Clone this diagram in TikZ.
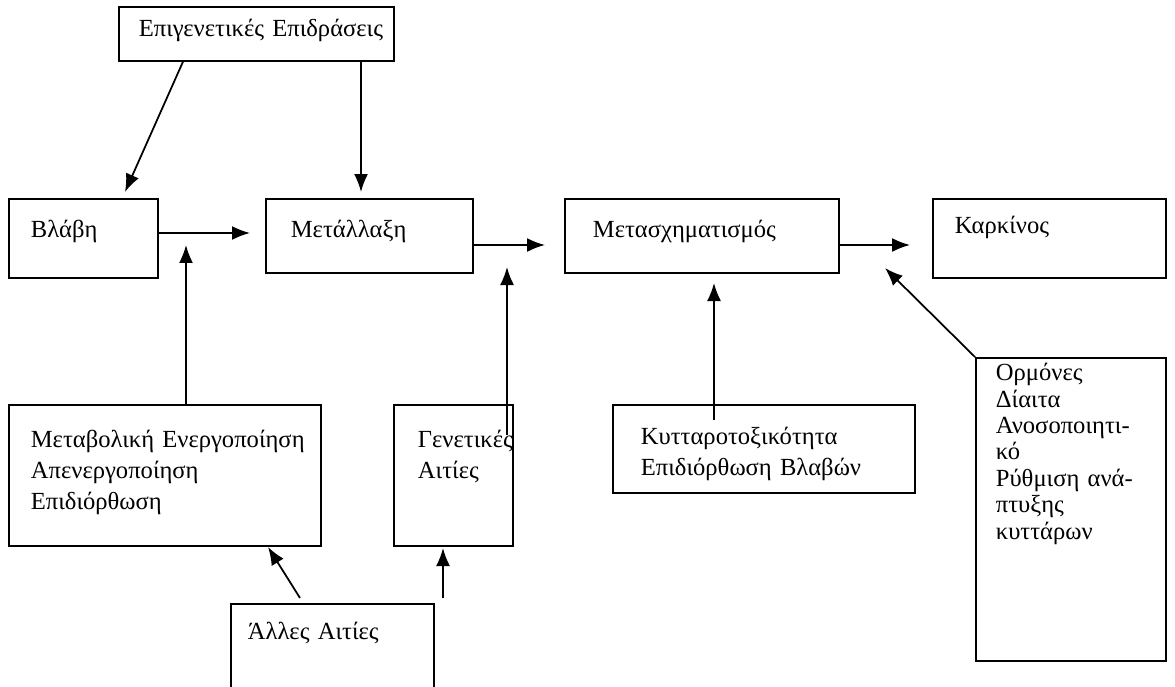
\documentclass[tikz,border=0pt]{standalone}
\usepackage{fontspec}
\setmainfont{Liberation Serif}
\usetikzlibrary{arrows.meta, calc}
\hyphenpenalty=10000

\tikzset{
  blk/.style={draw, line width=1pt, anchor=north west, inner sep=0pt, inner xsep=0.44cm,
    align=left, font=\fontsize{14}{17.6}\selectfont},
  arr/.style={line width=1pt, -{Latex[length=0.36cm,width=0.28cm]}}
}

\begin{document}
\begin{tikzpicture}[x=0.02cm, y=-0.02cm]
  \useasboundingbox (0,0) rectangle (1175,686);

  % Nodes
  \node (epi) [blk, inner xsep=0.4cm, text width=4.7cm, text height=0.60cm, text depth=0.48cm] at (118,6) {Επιγενετικές~Επιδράσεις};
  \node (blavi) [blk, text width=2.10cm, text height=0.78cm, text depth=0.80cm] at (8,198) {Βλάβη};
  \node (metall) [blk, inner xsep=0.5cm, text width=3.14cm, text height=0.78cm, text depth=0.70cm] at (265,198) {Μετάλλαξη};
  \node (metasx) [blk, inner xsep=0.56cm, text width=4.36cm, text height=0.78cm, text depth=0.70cm] at (564,198) {Μετασχηματισμός};
  \node (karkinos) [blk, text width=3.78cm, text height=0.70cm, text depth=0.88cm] at (932,198) {Καρκίνος};
  \node (metavol) [blk, text width=5.36cm, text height=0.86cm, text depth=1.96cm] at (8,404) {Μεταβολική~Ενεργοποίηση\\Απενεργοποίηση\\Επιδιόρθωση};
  \node (genet) [blk, inner xsep=0.48cm, text width=1.42cm, text height=0.86cm, text depth=1.96cm] at (393,404) {Γενετικές\\Αιτίες};
  \node (kyttaro) [blk, inner xsep=0.56cm, text width=4.92cm, text height=0.80cm, text depth=0.96cm] at (612,404) {Κυτταροτοξικότητα\\Επιδιόρθωση~Βλαβών};
  \node (ormones) [blk, inner xsep=0.4cm, text width=3.0cm, text height=0.46cm, text depth=5.60cm,
    font=\fontsize{14}{15}\selectfont] at (975,357) {Ορμόνες\\Δίαιτα\\Ανοσοποιητι-\\κό\\Ρύθμιση~ανά-\\πτυξης\\κυττάρων};
  \node (alles) [blk, inner xsep=0.34cm, text width=3.38cm, text height=0.72cm, text depth=1.30cm] at (230,603) {Άλλες~Αιτίες};

  % Arrow tips
  \coordinate (tb) at (125,192);
  \coordinate (tm) at (361,192);
  \coordinate (tbm) at (250,233);
  \coordinate (tv) at (186,245);
  \coordinate (tms) at (545,245);
  \coordinate (tg) at (507,267);
  \coordinate (tk) at (910,245);
  \coordinate (tc) at (714,283);
  \coordinate (to) at (885,268);
  \coordinate (tmv) at (268,547);
  \coordinate (tgn) at (443,548);

  % Arrows
  \draw[arr] ([xshift=1.3cm]epi.south west) -- (tb);
  \draw[arr] (tm |- epi.south) -- (tm);
  \draw[arr] (blavi.east |- tbm) -- (tbm);
  \draw[arr] (tv |- metavol.north) -- (tv);
  \draw[arr] (metall.east |- tms) -- (tms);
  \draw[arr] ($(tg |- genet.north)+(0,31)$) -- (tg);
  \draw[arr] (metasx.east |- tk) -- (tk);
  \draw[arr] ($(tc |- kyttaro.north)+(0,16)$) -- (tc);
  \draw[arr] (ormones.north west) -- (to);
  \draw[arr] ($(alles.north west)+(70,-5)$) -- (tmv);
  \draw[arr] ($(tgn |- alles.north)+(0,-5)$) -- (tgn);
\end{tikzpicture}
\end{document}
